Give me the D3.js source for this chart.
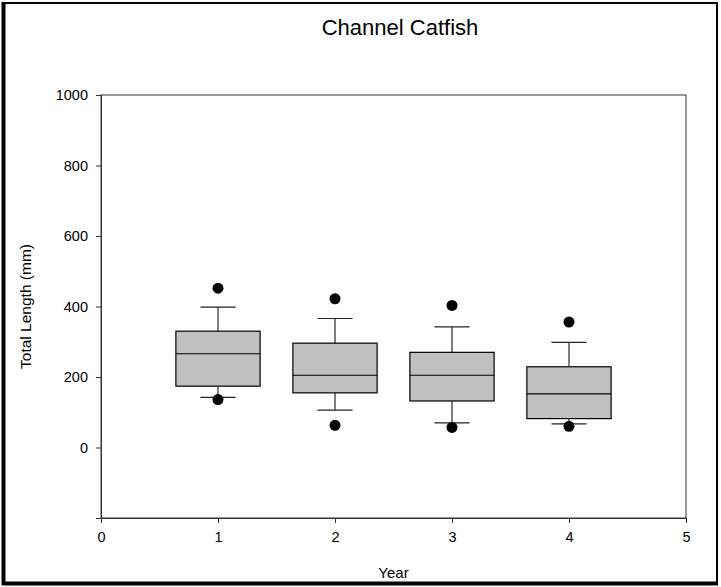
<!DOCTYPE html>
<html>
<head>
<meta charset="utf-8">
<script src="https://cdn.jsdelivr.net/npm/d3@7"></script>
<style>
  body { margin: 0; background: #fff; }
  text { font-family: "Liberation Sans", Arial, sans-serif; fill: #000; }
</style>
</head>
<body>
<svg id="chart" width="721" height="587"></svg>
<script>
// box stats per year
var years = [1, 2, 3, 4];
var q1 = [174, 155, 132, 82];
var median = [266, 205, 205, 152];
var q3 = [330, 296, 270, 229];
var whiskerLow = [142, 106, 70, 67];
var whiskerHigh = [398, 366, 342, 298];
var outlierLow = [136, 63, 57, 60];
var outlierHigh = [452, 422, 403, 356];

var xTicks = [0, 1, 2, 3, 4, 5];
var yTicks = [0, 200, 400, 600, 800, 1000];

var width = 721, height = 587;
var margin = {left: 101, right: 35, top: 95, bottom: 69};

var svg = d3.select("#chart");

// outer figure frame: thin top/right, heavier left/bottom
svg.append("rect")
    .attr("x", 4).attr("y", 3)
    .attr("width", width - 8).attr("height", height - 6)
    .attr("fill", "none")
    .attr("stroke", "#000")
    .attr("stroke-width", 2);
svg.append("line").attr("x1", 3.5).attr("x2", 3.5).attr("y1", 2).attr("y2", height - 2)
    .attr("stroke", "#000").attr("stroke-width", 4);
svg.append("line").attr("x1", 2).attr("x2", width - 3).attr("y1", height - 3.5).attr("y2", height - 3.5)
    .attr("stroke", "#000").attr("stroke-width", 4);

var x = d3.scaleLinear().domain([0, 5]).range([margin.left, width - margin.right]);
var y = d3.scaleLinear().domain([-200, 1000]).range([height - margin.bottom, margin.top]);

// plot frame
svg.append("rect")
    .attr("x", x(0)).attr("y", y(1000))
    .attr("width", x(5) - x(0)).attr("height", y(-200) - y(1000))
    .attr("fill", "none")
    .attr("stroke", "#333")
    .attr("stroke-width", 1);

var xAxis = svg.append("g")
    .attr("transform", "translate(0," + y(-200) + ")")
    .call(d3.axisBottom(x).tickValues(xTicks).tickSize(5).tickPadding(9).tickFormat(d3.format("d")));
var yAxis = svg.append("g")
    .attr("transform", "translate(" + x(0) + ",0)")
    .call(d3.axisLeft(y).tickValues(yTicks).tickSize(5).tickPadding(8).tickFormat(d3.format("d")));

[xAxis, yAxis].forEach(function(g) {
    g.select(".domain").attr("stroke", "#333");
    g.selectAll(".tick line").attr("stroke", "#333");
    g.selectAll(".tick text").style("font-size", "14.5px").attr("fill", "#000");
});

var boxW = 0.72, capW = 0.3;
var data = years.map(function(yr, i) {
    return {yr: yr, q1: q1[i], med: median[i], q3: q3[i],
            lo: whiskerLow[i], hi: whiskerHigh[i],
            oLo: outlierLow[i], oHi: outlierHigh[i]};
});

var box = svg.selectAll(".box").data(data).enter().append("g").attr("class", "box");

// whiskers
box.append("line")
    .attr("x1", d => x(d.yr)).attr("x2", d => x(d.yr))
    .attr("y1", d => y(d.q3)).attr("y2", d => y(d.hi))
    .attr("stroke", "#555").attr("stroke-width", 1.5);
box.append("line")
    .attr("x1", d => x(d.yr)).attr("x2", d => x(d.yr))
    .attr("y1", d => y(d.q1)).attr("y2", d => y(d.lo))
    .attr("stroke", "#555").attr("stroke-width", 1.5);
// caps
box.append("line")
    .attr("x1", d => x(d.yr - capW / 2)).attr("x2", d => x(d.yr + capW / 2))
    .attr("y1", d => y(d.hi)).attr("y2", d => y(d.hi))
    .attr("stroke", "#222").attr("stroke-width", 1.2);
box.append("line")
    .attr("x1", d => x(d.yr - capW / 2)).attr("x2", d => x(d.yr + capW / 2))
    .attr("y1", d => y(d.lo)).attr("y2", d => y(d.lo))
    .attr("stroke", "#222").attr("stroke-width", 1.2);
// box
box.append("rect")
    .attr("x", d => x(d.yr - boxW / 2))
    .attr("width", d => x(d.yr + boxW / 2) - x(d.yr - boxW / 2))
    .attr("y", d => y(d.q3))
    .attr("height", d => y(d.q1) - y(d.q3))
    .attr("fill", "#c0c0c0").attr("stroke", "#000").attr("stroke-width", 1.2);
box.append("line")
    .attr("x1", d => x(d.yr - boxW / 2)).attr("x2", d => x(d.yr + boxW / 2))
    .attr("y1", d => y(d.med)).attr("y2", d => y(d.med))
    .attr("stroke", "#000").attr("stroke-width", 1.2);
// outliers
box.append("circle")
    .attr("cx", d => x(d.yr)).attr("cy", d => y(d.oHi)).attr("r", 5.5).attr("fill", "#000");
box.append("circle")
    .attr("cx", d => x(d.yr)).attr("cy", d => y(d.oLo)).attr("r", 5.5).attr("fill", "#000");

// titles
svg.append("text")
    .attr("x", 400).attr("y", 35)
    .attr("text-anchor", "middle")
    .style("font-size", "22px")
    .text("Channel Catfish");
svg.append("text")
    .attr("x", (x(0) + x(5)) / 2).attr("y", 578)
    .attr("text-anchor", "middle")
    .style("font-size", "15px")
    .text("Year");
svg.append("text")
    .attr("transform", "translate(31," + y(400) + ") rotate(-90)")
    .attr("text-anchor", "middle")
    .style("font-size", "15.5px")
    .text("Total Length (mm)");
</script>
</body>
</html>
